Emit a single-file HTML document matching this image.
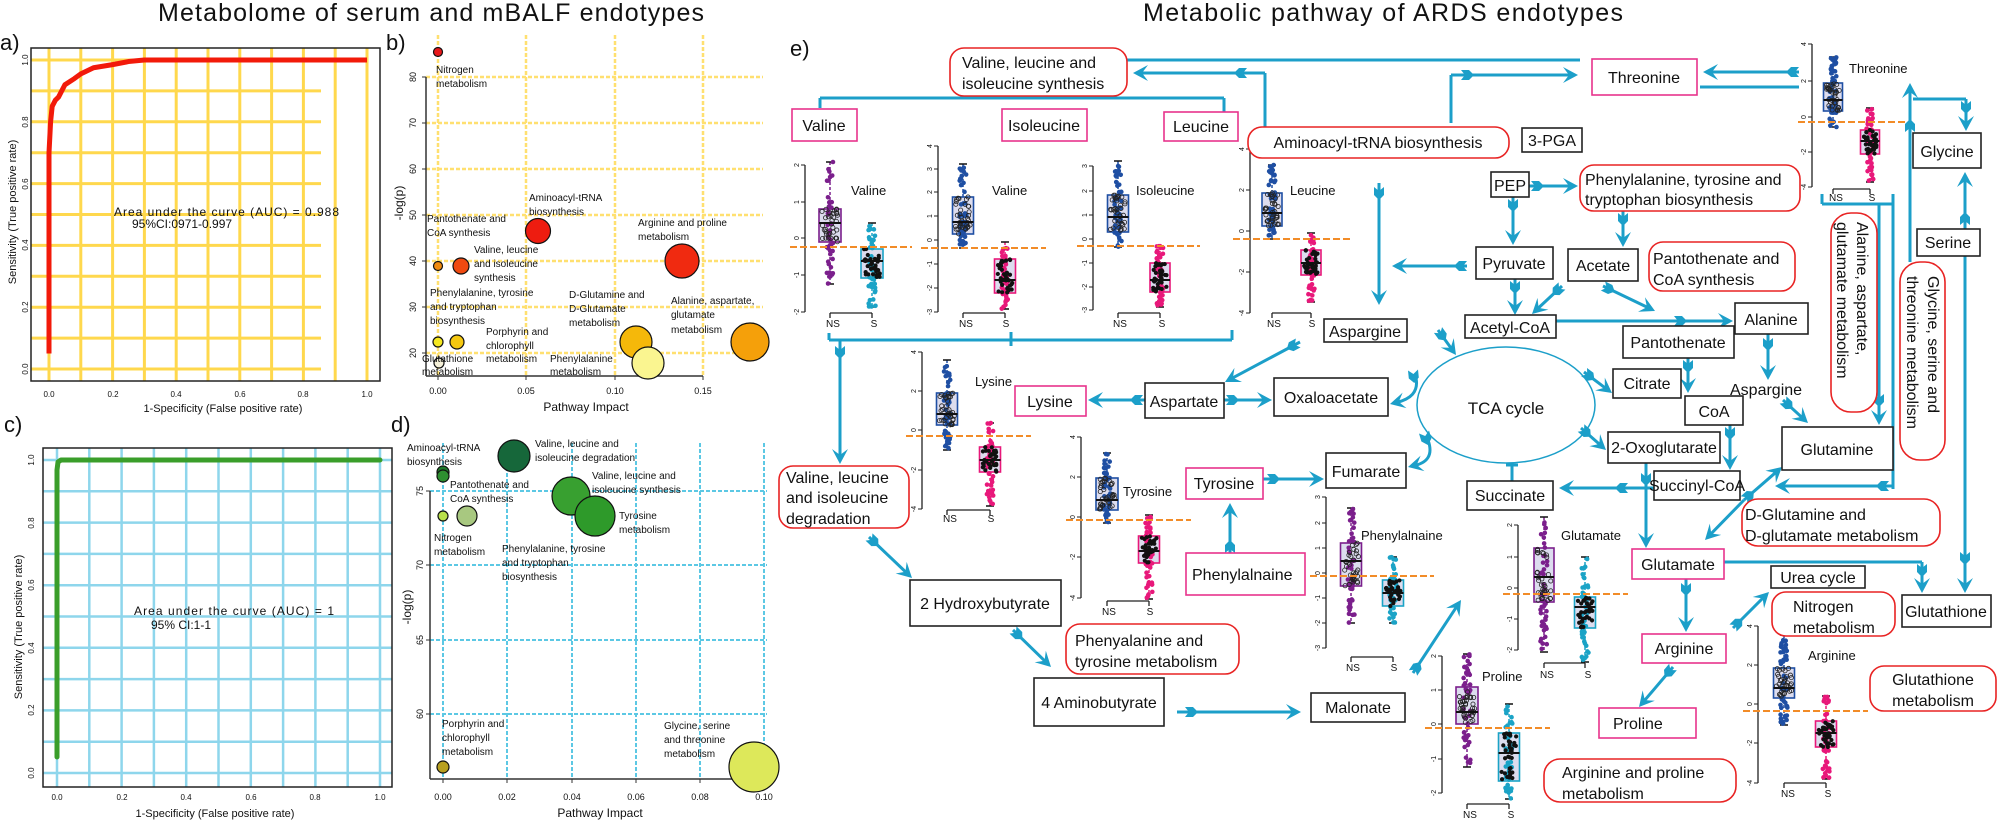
<!DOCTYPE html>
<html><head><meta charset="utf-8"><style>
html,body{margin:0;padding:0;background:#fff}
svg{display:block;font-family:"Liberation Sans",Arial,sans-serif;fill:#111}
.pk{fill:#fff;stroke:#E8338C;stroke-width:1.6}
.rd{fill:#fff;stroke:#E82323;stroke-width:1.6}
.bk{fill:#fff;stroke:#222;stroke-width:1.6}
.b{font-size:16px}
.m{text-anchor:middle}
.s8{font-size:8px}.s9{font-size:9px}.s10{font-size:10px}.s11{font-size:11px}.s12{font-size:12px}.s13{font-size:13px}
</style></head><body>
<svg id="s" xmlns="http://www.w3.org/2000/svg" width="1997" height="820" viewBox="0 0 1997 820">
<rect width="1997" height="820" fill="#fff"/>
<g id="g"></g>
<g id="boxes">
<rect class="rd" x="950" y="48" width="177" height="48" rx="14"/>
<rect class="pk" x="792" y="109" width="65" height="32"/>
<rect class="pk" x="1002" y="109" width="85" height="32"/>
<rect class="pk" x="1164" y="112" width="74" height="29"/>
<rect class="rd" x="1248" y="127" width="261" height="31" rx="14"/>
<rect class="bk" x="1522" y="128" width="60" height="24"/>
<rect class="pk" x="1592" y="59" width="105" height="36"/>
<rect class="bk" x="1491" y="172" width="38" height="25"/>
<rect class="rd" x="1580" y="165" width="220" height="46" rx="14"/>
<rect class="bk" x="1476" y="247" width="77" height="32"/>
<rect class="bk" x="1568" y="249" width="70" height="32"/>
<rect class="rd" x="1649" y="242" width="146" height="49" rx="14"/>
<rect class="bk" x="1465" y="315" width="91" height="23"/>
<rect class="bk" x="1735" y="303" width="73" height="31"/>
<rect class="bk" x="1623" y="326" width="111" height="32"/>
<rect class="bk" x="1613" y="369" width="68" height="29"/>
<rect class="bk" x="1685" y="396" width="58" height="29"/>
<rect class="bk" x="1324" y="319" width="83" height="23"/>
<rect class="bk" x="1274" y="378" width="114" height="38"/>
<rect class="pk" x="1015" y="386" width="71" height="30"/>
<rect class="bk" x="1145" y="383" width="79" height="35"/>
<rect class="bk" x="1913" y="133" width="68" height="35"/>
<rect class="bk" x="1917" y="229" width="63" height="27"/>
<rect class="rd" x="1831" y="213" width="46" height="199" rx="20"/>
<rect class="rd" x="1900" y="262" width="45" height="198" rx="20"/>
<ellipse cx="1506" cy="405" rx="89" ry="58" fill="none" stroke="#1C9FC9" stroke-width="1.5"/>
<rect class="bk" x="1326" y="453" width="80" height="35"/>
<rect class="bk" x="1467" y="481" width="86" height="29"/>
<rect class="bk" x="1608" y="432" width="112" height="31"/>
<rect class="bk" x="1654" y="471" width="86" height="29"/>
<rect class="bk" x="1782" y="427" width="111" height="43"/>
<rect class="rd" x="1742" y="499" width="198" height="47" rx="16"/>
<rect class="pk" x="1632" y="549" width="92" height="30"/>
<rect class="bk" x="1771" y="566" width="94" height="22"/>
<rect class="rd" x="1772" y="592" width="123" height="44" rx="14"/>
<rect class="bk" x="1902" y="595" width="89" height="32"/>
<rect class="rd" x="1870" y="666" width="126" height="45" rx="14"/>
<rect class="pk" x="1642" y="634" width="84" height="29"/>
<rect class="pk" x="1599" y="708" width="97" height="30"/>
<rect class="rd" x="1544" y="759" width="192" height="43" rx="16"/>
<rect class="bk" x="1311" y="693" width="94" height="29"/>
<rect class="pk" x="1186" y="468" width="77" height="31"/>
<rect class="pk" x="1186" y="553" width="119" height="42"/>
<rect class="rd" x="779" y="466" width="130" height="62" rx="14"/>
<rect class="bk" x="910" y="580" width="151" height="46"/>
<rect class="rd" x="1066" y="624" width="173" height="50" rx="14"/>
<rect class="bk" x="1034" y="678" width="130" height="48"/>
</g>
<g id="txt">
<text x="158" y="21" font-size="25" textLength="546">Metabolome of serum and mBALF endotypes</text>
<text x="1143" y="21" font-size="25" textLength="480">Metabolic pathway of ARDS endotypes</text>
<text x="0" y="50" font-size="22">a)</text>
<text x="386" y="50" font-size="22">b)</text>
<text x="4" y="432" font-size="22">c)</text>
<text x="391" y="432" font-size="22">d)</text>
<text x="790" y="56" font-size="22">e)</text>
<!-- panel a -->
<g class="s8 m">
<text x="49" y="397">0.0</text><text x="113" y="397">0.2</text><text x="176" y="397">0.4</text><text x="240" y="397">0.6</text><text x="303" y="397">0.8</text><text x="367" y="397">1.0</text>
<text transform="translate(28,369) rotate(-90)">0.0</text><text transform="translate(28,307) rotate(-90)">0.2</text><text transform="translate(28,245) rotate(-90)">0.4</text><text transform="translate(28,184) rotate(-90)">0.6</text><text transform="translate(28,122) rotate(-90)">0.8</text><text transform="translate(28,60) rotate(-90)">1.0</text>
<text x="57" y="800">0.0</text><text x="122" y="800">0.2</text><text x="186" y="800">0.4</text><text x="251" y="800">0.6</text><text x="315" y="800">0.8</text><text x="380" y="800">1.0</text>
<text transform="translate(34,773) rotate(-90)">0.0</text><text transform="translate(34,710) rotate(-90)">0.2</text><text transform="translate(34,648) rotate(-90)">0.4</text><text transform="translate(34,585) rotate(-90)">0.6</text><text transform="translate(34,523) rotate(-90)">0.8</text><text transform="translate(34,460) rotate(-90)">1.0</text>
</g>
<text class="s11 m" x="223" y="412">1-Specificity (False positive rate)</text>
<text class="s11 m" transform="translate(16,212) rotate(-90)">Sensitivity (True positive rate)</text>
<text class="s12" x="114" y="216" textLength="225">Area under the curve (AUC) = 0.988</text>
<text class="s12" x="132" y="228">95%CI:0971-0.997</text>
<text class="s11 m" x="215" y="817">1-Specificity (False positive rate)</text>
<text class="s11 m" transform="translate(22,627) rotate(-90)">Sensitivity (True positive rate)</text>
<text class="s12" x="134" y="615" textLength="200">Area under the curve (AUC) = 1</text>
<text class="s12" x="151" y="629">95% CI:1-1</text>
<!-- panel b -->
<g class="s9 m">
<text x="438" y="394">0.00</text><text x="526" y="394">0.05</text><text x="615" y="394">0.10</text><text x="703" y="394">0.15</text>
<text transform="translate(416,77) rotate(-90)">80</text><text transform="translate(416,123) rotate(-90)">70</text><text transform="translate(416,169) rotate(-90)">60</text><text transform="translate(416,215) rotate(-90)">50</text><text transform="translate(416,261) rotate(-90)">40</text><text transform="translate(416,307) rotate(-90)">30</text><text transform="translate(416,353) rotate(-90)">20</text>
<text x="443" y="800">0.00</text><text x="507" y="800">0.02</text><text x="572" y="800">0.04</text><text x="636" y="800">0.06</text><text x="700" y="800">0.08</text><text x="764" y="800">0.10</text>
<text transform="translate(423,491) rotate(-90)">75</text><text transform="translate(423,565) rotate(-90)">70</text><text transform="translate(423,640) rotate(-90)">65</text><text transform="translate(423,714) rotate(-90)">60</text>
</g>
<text class="s12 m" x="586" y="411">Pathway Impact</text>
<text class="s12 m" transform="translate(403,203) rotate(-90)">-log(p)</text>
<text class="s12 m" x="600" y="817">Pathway Impact</text>
<text class="s12 m" transform="translate(411,607) rotate(-90)">-log(p)</text>
<g class="s10">
<text x="436" y="73">Nitrogen</text><text x="436" y="87">metabolism</text>
<text x="529" y="201">Aminoacyl-tRNA</text><text x="529" y="215">biosynthesis</text>
<text x="427" y="222">Pantothenate and</text><text x="427" y="236">CoA synthesis</text>
<text x="474" y="253">Valine, leucine</text><text x="474" y="267">and isoleucine</text><text x="474" y="281">synthesis</text>
<text x="430" y="296">Phenylalanine, tyrosine</text><text x="430" y="310">and tryptophan</text><text x="430" y="324">biosynthesis</text>
<text x="569" y="298">D-Glutamine and</text><text x="569" y="312">D-Glutamate</text><text x="569" y="326">metabolism</text>
<text x="486" y="335">Porphyrin and</text><text x="486" y="349">chlorophyll</text><text x="486" y="362">metabolism</text>
<text x="422" y="362">Glutathione</text><text x="422" y="375">metabolism</text>
<text x="550" y="362">Phenylalanine</text><text x="550" y="375">metabolism</text>
<text x="638" y="226">Arginine and proline</text><text x="638" y="240">metabolism</text>
<text x="671" y="304">Alanine, aspartate,</text><text x="671" y="318">glutamate</text><text x="671" y="333">metabolism</text>
<text x="407" y="451">Aminoacyl-tRNA</text><text x="407" y="465">biosynthesis</text>
<text x="535" y="447">Valine, leucine and</text><text x="535" y="461">isoleucine degradation</text>
<text x="450" y="488">Pantothenate and</text><text x="450" y="502">CoA synthesis</text>
<text x="592" y="479">Valine, leucine and</text><text x="592" y="493">isoleucine synthesis</text>
<text x="619" y="519">Tyrosine</text><text x="619" y="533">metabolism</text>
<text x="434" y="541">Nitrogen</text><text x="434" y="555">metabolism</text>
<text x="502" y="552">Phenylalanine, tyrosine</text><text x="502" y="566">and tryptophan</text><text x="502" y="580">biosynthesis</text>
<text x="442" y="727">Porphyrin and</text><text x="442" y="741">chlorophyll</text><text x="442" y="755">metabolism</text>
<text x="664" y="729">Glycine, serine</text><text x="664" y="743">and threonine</text><text x="664" y="757">metabolism</text>
</g>
<!-- panel e boxes text -->
<g class="b">
<text x="962" y="68">Valine, leucine and</text><text x="962" y="89">isoleucine synthesis</text>
<text class="m" x="824" y="131">Valine</text>
<text class="m" x="1044" y="131">Isoleucine</text>
<text class="m" x="1201" y="132">Leucine</text>
<text class="m" x="1378" y="148">Aminoacyl-tRNA biosynthesis</text>
<text class="m" x="1552" y="146">3-PGA</text>
<text class="m" x="1644" y="83">Threonine</text>
<text class="m" x="1510" y="191">PEP</text>
<text x="1585" y="185">Phenylalanine, tyrosine and</text><text x="1585" y="205">tryptophan biosynthesis</text>
<text class="m" x="1514" y="269">Pyruvate</text>
<text class="m" x="1603" y="271">Acetate</text>
<text x="1653" y="264">Pantothenate and</text><text x="1653" y="285">CoA synthesis</text>
<text class="m" x="1510" y="333">Acetyl-CoA</text>
<text class="m" x="1771" y="325">Alanine</text>
<text class="m" x="1678" y="348">Pantothenate</text>
<text class="m" x="1647" y="389">Citrate</text>
<text class="m" x="1714" y="417">CoA</text>
<text x="1730" y="395">Aspargine</text>
<text class="m" x="1365" y="337">Aspargine</text>
<text class="m" x="1331" y="403">Oxaloacetate</text>
<text class="m" x="1050" y="407">Lysine</text>
<text class="m" x="1184" y="407">Aspartate</text>
<text class="m" x="1947" y="157">Glycine</text>
<text class="m" x="1948" y="248">Serine</text>
<text transform="translate(1857,222) rotate(90)">Alanine, aspartate,</text>
<text transform="translate(1837,222) rotate(90)">glutamate metabolism</text>
<text transform="translate(1928,276) rotate(90)">Glycine, serine and</text>
<text transform="translate(1907,276) rotate(90)">threonine metabolism</text>
<text class="m" x="1506" y="414" font-size="17">TCA cycle</text>
<text class="m" x="1366" y="477">Fumarate</text>
<text class="m" x="1510" y="501">Succinate</text>
<text class="m" x="1664" y="453">2-Oxoglutarate</text>
<text class="m" x="1697" y="491">Succinyl-CoA</text>
<text class="m" x="1837" y="455">Glutamine</text>
<text x="1745" y="520">D-Glutamine and</text><text x="1745" y="541">D-glutamate metabolism</text>
<text class="m" x="1678" y="570">Glutamate</text>
<text class="m" x="1818" y="583">Urea cycle</text>
<text x="1793" y="612">Nitrogen</text><text x="1793" y="633">metabolism</text>
<text class="m" x="1946" y="617">Glutathione</text>
<text class="m" x="1933" y="685">Glutathione</text><text class="m" x="1933" y="706">metabolism</text>
<text class="m" x="1684" y="654">Arginine</text>
<text x="1613" y="729">Proline</text>
<text x="1562" y="778">Arginine and proline</text><text x="1562" y="799">metabolism</text>
<text class="m" x="1358" y="713">Malonate</text>
<text class="m" x="1224" y="489">Tyrosine</text>
<text x="1192" y="580">Phenylalnaine</text>
<text x="786" y="483">Valine, leucine</text><text x="786" y="503">and isoleucine</text><text x="786" y="524">degradation</text>
<text class="m" x="985" y="609">2 Hydroxybutyrate</text>
<text x="1075" y="646">Phenyalanine and</text><text x="1075" y="667">tyrosine metabolism</text>
<text class="m" x="1099" y="708">4 Aminobutyrate</text>
</g>
<!-- boxplot titles -->
<g class="s13">
<text x="851" y="195">Valine</text><text x="992" y="195">Valine</text><text x="1136" y="195">Isoleucine</text><text x="1290" y="195">Leucine</text>
<text x="1849" y="73">Threonine</text><text x="975" y="386">Lysine</text><text x="1123" y="496">Tyrosine</text>
<text x="1361" y="540">Phenylalnaine</text><text x="1561" y="540">Glutamate</text><text x="1482" y="681">Proline</text><text x="1808" y="660">Arginine</text>
</g>
<g class="s10 m">
<text x="833" y="327">NS</text><text x="874" y="327">S</text>
<text x="966" y="327">NS</text><text x="1006" y="327">S</text>
<text x="1120" y="327">NS</text><text x="1162" y="327">S</text>
<text x="1274" y="327">NS</text><text x="1312" y="327">S</text>
<text x="1836" y="201">NS</text><text x="1872" y="201">S</text>
<text x="950" y="522">NS</text><text x="991" y="522">S</text>
<text x="1109" y="615">NS</text><text x="1150" y="615">S</text>
<text x="1353" y="671">NS</text><text x="1394" y="671">S</text>
<text x="1547" y="678">NS</text><text x="1588" y="678">S</text>
<text x="1470" y="818">NS</text><text x="1511" y="818">S</text>
<text x="1788" y="797">NS</text><text x="1828" y="797">S</text>
</g>
<g font-size="7" class="m">
<text transform="translate(799,165) rotate(-90)">2</text><text transform="translate(799,202) rotate(-90)">1</text><text transform="translate(799,238) rotate(-90)">0</text><text transform="translate(799,275) rotate(-90)">-1</text><text transform="translate(799,312) rotate(-90)">-2</text>
<text transform="translate(932,146) rotate(-90)">4</text><text transform="translate(932,169) rotate(-90)">3</text><text transform="translate(932,192) rotate(-90)">2</text><text transform="translate(932,216) rotate(-90)">1</text><text transform="translate(932,240) rotate(-90)">0</text><text transform="translate(932,264) rotate(-90)">-1</text><text transform="translate(932,288) rotate(-90)">-2</text><text transform="translate(932,312) rotate(-90)">-3</text>
<text transform="translate(1087,166) rotate(-90)">3</text><text transform="translate(1087,191) rotate(-90)">2</text><text transform="translate(1087,215) rotate(-90)">1</text><text transform="translate(1087,239) rotate(-90)">0</text><text transform="translate(1087,263) rotate(-90)">-1</text><text transform="translate(1087,287) rotate(-90)">-2</text><text transform="translate(1087,310) rotate(-90)">-3</text>
<text transform="translate(1244,149) rotate(-90)">4</text><text transform="translate(1244,190) rotate(-90)">2</text><text transform="translate(1244,231) rotate(-90)">0</text><text transform="translate(1244,272) rotate(-90)">-2</text><text transform="translate(1244,313) rotate(-90)">-4</text>
<text transform="translate(1806,44) rotate(-90)">4</text><text transform="translate(1806,81) rotate(-90)">2</text><text transform="translate(1806,117) rotate(-90)">0</text><text transform="translate(1806,152) rotate(-90)">-2</text><text transform="translate(1806,187) rotate(-90)">-4</text>
<text transform="translate(916,352) rotate(-90)">4</text><text transform="translate(916,391) rotate(-90)">2</text><text transform="translate(916,430) rotate(-90)">0</text><text transform="translate(916,470) rotate(-90)">-2</text><text transform="translate(916,509) rotate(-90)">-4</text>
<text transform="translate(1075,437) rotate(-90)">4</text><text transform="translate(1075,477) rotate(-90)">2</text><text transform="translate(1075,517) rotate(-90)">0</text><text transform="translate(1075,557) rotate(-90)">-2</text><text transform="translate(1075,598) rotate(-90)">-4</text>
<text transform="translate(1320,497) rotate(-90)">3</text><text transform="translate(1320,523) rotate(-90)">2</text><text transform="translate(1320,548) rotate(-90)">1</text><text transform="translate(1320,573) rotate(-90)">0</text><text transform="translate(1320,598) rotate(-90)">-1</text><text transform="translate(1320,623) rotate(-90)">-2</text><text transform="translate(1320,648) rotate(-90)">-3</text>
<text transform="translate(1512,525) rotate(-90)">2</text><text transform="translate(1512,557) rotate(-90)">1</text><text transform="translate(1512,588) rotate(-90)">0</text><text transform="translate(1512,619) rotate(-90)">-1</text><text transform="translate(1512,650) rotate(-90)">-2</text>
<text transform="translate(1436,656) rotate(-90)">2</text><text transform="translate(1436,690) rotate(-90)">1</text><text transform="translate(1436,724) rotate(-90)">0</text><text transform="translate(1436,759) rotate(-90)">-1</text><text transform="translate(1436,793) rotate(-90)">-2</text>
<text transform="translate(1752,626) rotate(-90)">4</text><text transform="translate(1752,665) rotate(-90)">2</text><text transform="translate(1752,704) rotate(-90)">0</text><text transform="translate(1752,743) rotate(-90)">-2</text><text transform="translate(1752,783) rotate(-90)">-4</text>
</g>
</g>
</svg>
<script>
(function(){
var N='http://www.w3.org/2000/svg',G=document.getElementById('g');
function E(t,a){var e=document.createElementNS(N,t);for(var k in a)e.setAttribute(k,a[k]);G.appendChild(e);return e;}
function L(x1,y1,x2,y2,c,w,d){var o={x1:x1,y1:y1,x2:x2,y2:y2,stroke:c||'#1C9FC9','stroke-width':w||3};if(d)o['stroke-dasharray']=d;E('line',o);}
var B='#1C9FC9';
function head(x,y,ux,uy){var nx=-uy,ny=ux;E('polygon',{fill:B,points:[x,y,x-15*ux+8*nx,y-15*uy+8*ny,x-9*ux,y-9*uy,x-15*ux-8*nx,y-15*uy-8*ny].join(',')});}
function tail(px,py,ux,uy){var nx=-uy,ny=ux;var p=function(a,b){return [px+a*ux+b*nx,py+a*uy+b*ny].join(',');};E('polygon',{fill:B,points:[p(0,5),p(8,5),p(13,0),p(8,-5),p(0,-5),p(4,0)].join(' ')});}
function A(x1,y1,x2,y2,t,h2){var dx=x2-x1,dy=y2-y1,l=Math.hypot(dx,dy),ux=dx/l,uy=dy/l;L(x1,y1,x2-ux*6,y2-uy*6);head(x2,y2,ux,uy);if(t!==undefined&&t!==null)tail(x1+ux*t,y1+uy*t,ux,uy);if(h2)head(x1,y1,-ux,-uy);}
// panel a grid
var Y='#FFD84D';
for(var i=0;i<=10;i++){L(49+31.8*i,48,49+31.8*i,381,Y,3);L(31,60+30.9*i,321,60+30.9*i,Y,3);}
E('rect',{x:31,y:48,width:349,height:333,fill:'none',stroke:'#222','stroke-width':1.5});
var pts=[[0,.05],[0,.7],[.005,.8],[.01,.85],[.02,.87],[.03,.88],[.05,.92],[.08,.94],[.1,.955],[.14,.975],[.2,.985],[.25,.995],[.3,1],[1,1]];
E('polyline',{points:pts.map(function(p){return (49+318*p[0])+','+(369-309*p[1]);}).join(' '),fill:'none',stroke:'#F21A0A','stroke-width':5,'stroke-linejoin':'round'});
// panel c grid
var C='#8ED6EC';
for(i=0;i<=10;i++){L(57+32.3*i,448,57+32.3*i,787,C,2.5);L(43,460+31.3*i,392,460+31.3*i,C,2.5);}
E('rect',{x:43,y:448,width:349,height:339,fill:'none',stroke:'#222','stroke-width':1.5});
E('polyline',{points:'57,757 57,470 58,462 61,460 380,460',fill:'none',stroke:'#3A9E2A','stroke-width':5,'stroke-linejoin':'round','stroke-linecap':'round'});
// panel b
var yd='4 2';
[438,526,615,703].forEach(function(x){L(x,35,x,376,'#FFE070',2.5,yd);});
[77,123,169,215,261,307,353].forEach(function(y){L(426,y,763,y,'#FFE070',2.5,yd);});
L(426,77,426,376,'#333',1.5);L(426,376,703,376,'#333',1.5);
[77,123,169,215,261,307,353].forEach(function(y){L(422,y,426,y,'#333',1);});
[438,526,615,703].forEach(function(x){L(x,376,x,380,'#333',1);});
function Ci(x,y,r,f){E('circle',{cx:x,cy:y,r:r,fill:f,stroke:'#111','stroke-width':1.2});}
Ci(438,52,4.5,'#E8181A');Ci(538,231,12.5,'#EE1C10');Ci(438,266,4.5,'#F08A10');Ci(461,266,8,'#F04A10');
Ci(682,261,17,'#F02A10');Ci(438,342,5,'#F5E820');Ci(457,342,7,'#F5C810');Ci(439,363,5,'#F5F0D8');
Ci(636,342,16,'#F5B80A');Ci(648,363,16,'#FAF590');Ci(750,342,19,'#F5A00A');
// panel d
[443,507,572,636,700,764].forEach(function(x){L(x,443,x,779,'#5CC8E4',2,yd);});
[491,565,640,714].forEach(function(y){L(430,y,767,y,'#5CC8E4',2,yd);});
L(430,491,430,779,'#333',1.5);L(430,779,764,779,'#333',1.5);
[491,565,640,714].forEach(function(y){L(426,y,430,y,'#333',1);});
[443,507,572,636,700,764].forEach(function(x){L(x,779,x,783,'#333',1);});
Ci(443,472,6,'#1E7A2A');Ci(443,476,6,'#2E8F30');Ci(514,456,16,'#16673A');Ci(571,496,19,'#38A030');Ci(595,516,20,'#2E9A2A');
Ci(443,516,5,'#B8E04A');Ci(467,516,10,'#A8C880');Ci(443,767,6,'#B8A020');Ci(754,767,25,'#DDE85A');
// boxplots
var seed=7;function R(){seed=(seed*16807)%2147483647;return (seed-1)/2147483646;}
var PU='#7B1F8C',CY='#1BA3C6',BL='#1F4FA3',MG='#E8187A';
function part(p,solid){
 L(p.cx,p.wt,p.cx,p.wb,p.col,1.5,'3 2');
 L(p.cx-4,p.wt,p.cx+4,p.wt,'#111',1.5);L(p.cx-4,p.wb,p.cx+4,p.wb,'#111',1.5);
 E('rect',{x:p.cx-p.hw,y:p.top,width:2*p.hw,height:p.bot-p.top,fill:'#DCDCEE',stroke:p.col,'stroke-width':1.6});
 for(var i=0;i<45;i++){var y=p.wt+(p.wb-p.wt)*R();E('circle',{cx:p.cx+(R()-.5)*7,cy:y,r:2.3,fill:p.col});}
 for(i=0;i<35;i++){var y2=p.top+(p.bot-p.top)*R();var x2=p.cx+(R()-.5)*(2*p.hw-6);
  if(solid)E('circle',{cx:x2,cy:y2,r:2.1,fill:'#111'});else E('circle',{cx:x2,cy:y2,r:2.1,fill:'none',stroke:'#222','stroke-width':.8});}
 L(p.cx-p.hw,p.med,p.cx+p.hw,p.med,'#111',2);
}
function bp(o){
 L(o.ax,o.t[0],o.ax,o.t[o.t.length-1],'#222',1.3);
 o.t.forEach(function(y){L(o.ax-4,y,o.ax,y,'#222',1);});
 part(o.ns,false);part(o.s,true);
 L(o.ox[0],o.oy,o.ox[1],o.oy,'#F28C28',2,'7 3');
 L(o.ns.cx,o.by,o.s.cx,o.by,'#222',1.3);L(o.ns.cx,o.by,o.ns.cx,o.by+5,'#222',1.3);L(o.s.cx,o.by,o.s.cx,o.by+5,'#222',1.3);
}
bp({ax:805,t:[165,202,238,275,312],ns:{cx:830,hw:11,top:209,bot:242,med:223,wt:162,wb:284,col:PU},s:{cx:872,hw:11,top:249,bot:278,med:261,wt:223,wb:307,col:CY},oy:247,ox:[790,912],by:313});
bp({ax:938,t:[146,169,192,216,240,264,288,312],ns:{cx:963,hw:10.5,top:197,bot:234,med:222,wt:164,wb:248,col:BL},s:{cx:1005,hw:10.5,top:259,bot:293,med:280,wt:242,wb:309,col:MG},oy:248,ox:[921,1046],by:313});
bp({ax:1093,t:[166,191,215,239,263,287,310],ns:{cx:1118,hw:10.5,top:195,bot:232,med:217,wt:161,wb:247,col:BL},s:{cx:1160,hw:10,top:263,bot:292,med:280,wt:246,wb:307,col:MG},oy:246,ox:[1077,1200],by:313});
bp({ax:1250,t:[149,190,231,272,313],ns:{cx:1272,hw:10,top:193,bot:226,med:213,wt:165,wb:239,col:BL},s:{cx:1311,hw:10,top:250,bot:275,med:263,wt:233,wb:302,col:MG},oy:239,ox:[1233,1350],by:313});
bp({ax:1812,t:[44,81,117,152,187],ns:{cx:1833,hw:9.5,top:83,bot:111,med:100,wt:57,wb:127,col:BL},s:{cx:1870,hw:9.5,top:130,bot:154,med:141,wt:108,wb:182,col:MG},oy:122,ox:[1798,1906],by:189});
bp({ax:922,t:[352,391,430,470,509],ns:{cx:947,hw:10.5,top:393,bot:425,med:414,wt:360,wb:450,col:BL},s:{cx:990,hw:10.5,top:447,bot:472,med:460,wt:423,wb:506,col:MG},oy:436,ox:[906,1031],by:510});
bp({ax:1081,t:[437,477,517,557,598],ns:{cx:1107,hw:11,top:478,bot:510,med:500,wt:453,wb:523,col:BL},s:{cx:1149,hw:10.5,top:536,bot:563,med:551,wt:515,wb:599,col:MG},oy:520,ox:[1066,1191],by:601});
bp({ax:1326,t:[497,523,548,573,598,623,648],ns:{cx:1351,hw:10.5,top:543,bot:586,med:561,wt:508,wb:623,col:PU},s:{cx:1393,hw:10.5,top:580,bot:606,med:593,wt:557,wb:623,col:CY},oy:576,ox:[1310,1434],by:657});
bp({ax:1518,t:[525,557,588,619,650],ns:{cx:1544,hw:10,top:548,bot:602,med:577,wt:517,wb:652,col:PU},s:{cx:1585,hw:10.5,top:597,bot:628,med:607,wt:557,wb:662,col:CY},oy:594,ox:[1503,1628],by:663});
bp({ax:1442,t:[656,690,724,759,793],ns:{cx:1467,hw:11,top:687,bot:724,med:712,wt:654,wb:767,col:PU},s:{cx:1509,hw:10.5,top:733,bot:781,med:753,wt:704,wb:799,col:CY},oy:728,ox:[1425,1550],by:804});
bp({ax:1758,t:[626,665,704,743,783],ns:{cx:1784,hw:10.5,top:668,bot:698,med:688,wt:635,wb:725,col:BL},s:{cx:1826,hw:10.5,top:721,bot:747,med:733,wt:696,wb:779,col:MG},oy:711,ox:[1743,1868],by:783});
// connectors
L(1127,60,1580,60);
L(1265,127,1265,73);A(1265,73,1133,73,18);
L(820,98,1224,98);L(820,98,820,108);L(1041,96,1041,98);L(1224,98,1224,112);
L(829,340,1232,340);L(829,333,829,340);L(1011,332,1011,346);L(1232,330,1232,340);
A(840,340,840,464,6);
A(1145,400,1088,400,2);A(1224,400,1272,400,2);A(1300,342,1225,382,2);
A(1379,183,1379,305,4);A(1467,266,1392,266,0);A(1529,186,1578,186,2);
A(1513,197,1513,245,2);A(1623,211,1623,247,2);A(1515,279,1515,315,2);
A(1562,286,1532,314,0);A(1603,286,1655,311,0);A(1556,321,1733,321,118);
A(1688,358,1688,393,2);A(1768,334,1768,380,4);A(1783,400,1808,423,0);
L(1451,123,1451,75);A(1451,75,1578,75,10);A(1799,72,1703,72,0);L(1700,87,1799,87);
L(1822,194,1822,204);L(1822,204,1893,204);A(1879,204,1879,425,190);
L(1893,194,1893,489);A(1893,486,1775,486,4);
A(1910,262,1910,83,130);L(1913,99,1966,99);A(1966,99,1966,131,2);
A(1965,229,1965,172,4);A(1965,256,1965,593,296);
E('path',{d:'M1416,378 Q1420,398 1394,403',fill:'none',stroke:B,'stroke-width':3});head(1390,404,-0.97,0.24);tail(1413,370,0.1,1);
E('path',{d:'M1428,440 Q1436,462 1412,466',fill:'none',stroke:B,'stroke-width':3});head(1408,467,-0.97,0.24);tail(1424,432,0.3,1);
L(1512,463,1512,481);L(1506,465,1518,465,B,3);
A(1584,372,1612,393,0);A(1581,428,1606,450,0);
A(1730,425,1730,470,2);A(1654,488,1559,488,26);A(1646,463,1646,548,10);
A(1744,500,1705,540,null);A(1744,500,1782,467,0);
L(1724,562,1922,562);A(1922,562,1922,593,2);
A(1686,579,1686,632,4);A(1673,667,1639,707,0);A(1733,628,1769,592,0);
A(1413,673,1461,600,0);A(1263,479,1324,479,4);A(1230,553,1230,503,0);
A(869,537,912,578,0);A(1013,630,1051,667,0);A(1177,712,1301,712,8);A(1438,330,1456,355,0);
// move decorations before boxes so boxes overlay? keep text on top already
})();
</script>
</body></html>
